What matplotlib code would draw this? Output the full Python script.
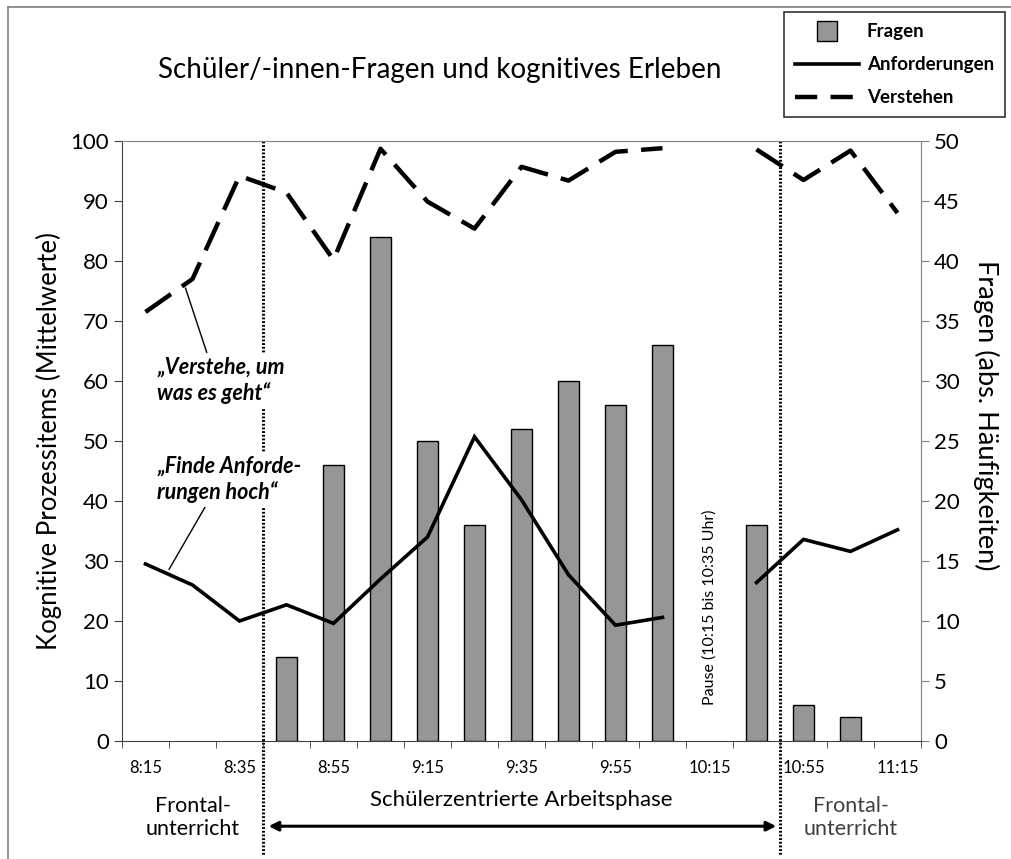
import numpy as np
import matplotlib
matplotlib.use("Agg")
import matplotlib.pyplot as plt
from matplotlib.lines import Line2D
from matplotlib.transforms import blended_transform_factory

plt.rcParams['font.family'] = ['Lato', 'DejaVu Sans']

# time slots (10 min steps, pause 10:15-10:35 skipped)
times = ["8:15", "8:25", "8:35", "8:45", "8:55", "9:05", "9:15", "9:25", "9:35",
         "9:45", "9:55", "10:05", "10:15", "10:45", "10:55", "11:05", "11:15"]
shown_labels = ["8:15", "8:35", "8:55", "9:15", "9:35", "9:55", "10:15", "10:55", "11:15"]

fragen = [0, 0, 0, 7, 23, 42, 25, 18, 26, 30, 28, 33, 0, 18, 3, 2, 0]
anforderungen = [29.5, 26, 20, 22.7, 19.6, 27, 34, 50.7, 40.2, 27.7, 19.3, 20.6,
                 np.nan, 26.4, 33.6, 31.6, 35.2]
verstehen = [71.5, 77, 94.2, 91.4, 80.2, 98.7, 89.9, 85.4, 95.7, 93.4, 98.2, 98.8,
             np.nan, 98.6, 93.5, 98.4, 88]

x = np.arange(len(times))
fr = np.array(fragen)
has_q = fr > 0

fig = plt.figure(figsize=(10.11, 8.59), dpi=100)
ax = fig.add_axes([122/1011, 1-741/859, 799/1011, 600/859])
ax2 = ax.twinx()
ax.set_zorder(ax2.get_zorder() + 1)
ax.patch.set_visible(False)

# bars on right axis
ax2.bar(x[has_q], fr[has_q], width=0.43, color='#969696', edgecolor='black', linewidth=1.0)
ax2.set_ylim(0, 50)
ax2.set_yticks(range(0, 51, 5))

# lines on left axis
ax.plot(x, anforderungen, color='black', lw=2.6, solid_joinstyle='miter')
ax.plot(x, verstehen, color='black', lw=3.2, dashes=(7, 3))
ax.set_ylim(0, 100)
ax.set_xlim(-0.5, len(times) - 0.5)
ax.set_yticks(range(0, 101, 10))

# x ticks: boundaries as minor, labels every second slot
ax.set_xticks([times.index(t) for t in shown_labels])
ax.set_xticklabels(shown_labels, fontsize=12)
ax.set_xticks(np.arange(-0.5, len(times), 1), minor=True)
ax.tick_params(axis='x', which='major', length=0, pad=14)
ax.tick_params(axis='x', which='minor', length=5, direction='out', color='#404040')
ax.tick_params(axis='y', labelsize=16, length=6, direction='out', color='#404040')
ax2.tick_params(axis='y', labelsize=16, length=6, direction='out', color='#808080')

for s in ['top', 'right']:
    ax.spines[s].set_color('#8a8a8a')
    ax2.spines[s].set_color('#8a8a8a')
ax.spines['left'].set_color('#404040')
ax.spines['bottom'].set_color('#404040')
ax2.spines['left'].set_visible(False)
ax2.spines['bottom'].set_visible(False)

ax.set_ylabel("Kognitive Prozessitems (Mittelwerte)", fontsize=18.5, labelpad=6)
ax2.set_ylabel("Fragen (abs. Häufigkeiten)", fontsize=19.5, rotation=270,
               va='center', ha='center')
ax2.yaxis.set_label_coords(1.082, 0.543)

# phase separators
trans = blended_transform_factory(ax.transData, ax.transAxes)
for xb in [2.5, 13.5]:
    ax.plot([xb, xb], [1.0, -0.192], transform=trans, clip_on=False,
            color='black', lw=2.2, linestyle=(0, (0.6, 0.6)), zorder=1)

# pause label
ax.text(12, 0.06, "Pause (10:15 bis 10:35 Uhr)", transform=trans, rotation=90,
        ha='center', va='bottom', fontsize=11.5)

# annotations
ax.annotate("„Verstehe, um\nwas es geht“", xy=(0.85, 75.5), xytext=(0.25, 64),
            fontsize=15.5, fontweight='bold', style='italic', ha='left', va='top',
            linespacing=1.2,
            bbox=dict(boxstyle='square,pad=0.2', fc='white', ec='none'),
            arrowprops=dict(arrowstyle='-', color='black', lw=1.0,
                            shrinkA=0, shrinkB=0, relpos=(0.4, 1.0)))
ax.annotate("„Finde Anforde-\nrungen hoch“", xy=(0.5, 28.6), xytext=(0.25, 47.5),
            fontsize=15.5, fontweight='bold', style='italic', ha='left', va='top',
            linespacing=1.2,
            bbox=dict(boxstyle='square,pad=0.2', fc='white', ec='none'),
            arrowprops=dict(arrowstyle='-', color='black', lw=1.0,
                            shrinkA=0, shrinkB=0, relpos=(0.35, 0.0)))

# phase labels below axis
ax.text(1.0, -0.092, "Frontal-\nunterricht", transform=trans, ha='center', va='top',
        fontsize=15.5, linespacing=1.2)
ax.text(15.0, -0.092, "Frontal-\nunterricht", transform=trans, ha='center', va='top',
        fontsize=15.5, linespacing=1.2, color='#404040')
ax.text(8.0, -0.082, "Schülerzentrierte Arbeitsphase", transform=trans,
        ha='center', va='top', fontsize=16)
ax.annotate("", xy=(2.62, -0.142), xytext=(13.42, -0.142), xycoords=trans,
            textcoords=trans,
            arrowprops=dict(arrowstyle='<|-|>', color='black', lw=2.2,
                            mutation_scale=14, shrinkA=0, shrinkB=0))

fig.text(440/1011, 1-70/859, "Schüler/-innen-Fragen und kognitives Erleben",
         ha='center', va='center', fontsize=20)

handles = [Line2D([], [], marker='s', markersize=14, color='none',
                  markerfacecolor='#969696', markeredgecolor='black'),
           Line2D([], [], color='black', lw=2.6),
           Line2D([], [], color='black', lw=3.2, dashes=(5, 3))]
leg = fig.legend(handles, ["Fragen", "Anforderungen", "Verstehen"],
                 loc='upper right', bbox_to_anchor=(1005/1011, 1-12/859),
                 borderaxespad=0, frameon=True, fancybox=False, edgecolor='black',
                 prop={'weight': 'bold', 'size': 13.5}, handlelength=3.4,
                 labelspacing=0.85, borderpad=0.6, handletextpad=0.4)
leg.get_frame().set_linewidth(1.2)

# outer chart border (left and top edge)
fig.add_artist(Line2D([8/1011, 8/1011], [0, 1-7/859], color='#7f7f7f', lw=1.2))
fig.add_artist(Line2D([8/1011, 1], [1-7/859, 1-7/859], color='#7f7f7f', lw=1.2))

fig.savefig("out.png", dpi=100)
